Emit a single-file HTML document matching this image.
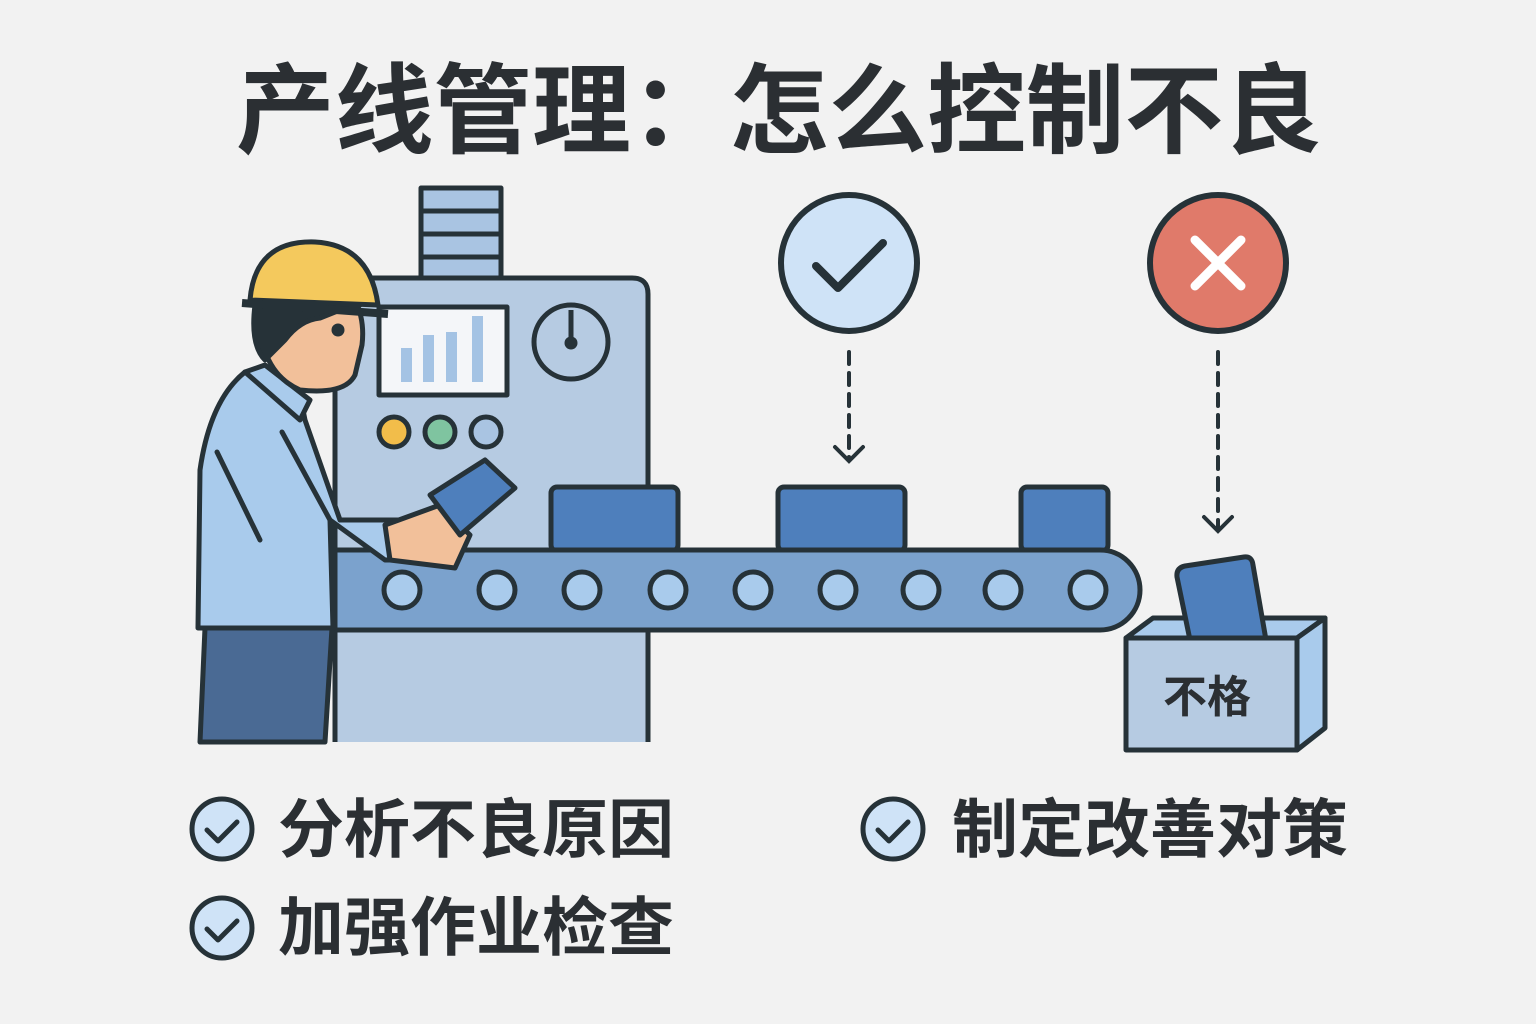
<!DOCTYPE html>
<html><head><meta charset="utf-8"><style>
html,body{margin:0;padding:0;background:#f2f2f2;}
svg{display:block;}
text{font-family:"Liberation Sans","Noto Sans CJK SC",sans-serif;font-weight:bold;fill:#2b2f33;}
</style></head><body>
<svg width="1536" height="1024" viewBox="0 0 1536 1024" xmlns="http://www.w3.org/2000/svg">
<rect width="1536" height="1024" fill="#f2f2f2"/>
<text x="236" y="145" font-size="98" textLength="1086" lengthAdjust="spacingAndGlyphs">产线管理：怎么控制不良</text>

<g stroke="#263238" stroke-width="5" stroke-linejoin="round">
<!-- machine top stack -->
<rect x="421" y="188" width="80" height="90" fill="#a9c4e2"/>
<line x1="421" y1="211" x2="501" y2="211"/><line x1="421" y1="234" x2="501" y2="234"/><line x1="421" y1="257" x2="501" y2="257"/>
<!-- machine body -->
<path d="M335 742 V278 H632 Q648 278 648 294 V742" fill="#b6cbe2"/>
<rect x="379" y="307" width="128" height="88" fill="#f4f6f9"/>
<g stroke="none" fill="#a4c3e4"><rect x="401" y="348" width="11" height="34"/><rect x="423" y="335" width="11" height="47"/><rect x="446" y="332" width="11" height="50"/><rect x="472" y="316" width="11" height="66"/></g>
<circle cx="571" cy="342" r="37" fill="#b6cbe2"/>
<line x1="571" y1="310" x2="571" y2="340"/><circle cx="571" cy="343" r="4" fill="#263238"/>
<circle cx="394" cy="432" r="15" fill="#f2bd4a"/>
<circle cx="440" cy="432" r="15" fill="#7fc4a0"/>
<circle cx="486" cy="432" r="15" fill="#a9c4e2"/>
<!-- boxes -->
<rect x="551" y="487" width="127" height="64" rx="6" fill="#4e7fbc"/>
<rect x="778" y="487" width="127" height="64" rx="6" fill="#4e7fbc"/>
<rect x="1021" y="487" width="87" height="64" rx="6" fill="#4e7fbc"/>
<!-- conveyor -->
<path d="M335 550 H1100 A40 40 0 0 1 1100 630 H335 Z" fill="#7ba2cd"/>
<g fill="#a9cbec"><circle cx="402" cy="590" r="18"/><circle cx="497" cy="590" r="18"/><circle cx="582" cy="590" r="18"/><circle cx="668" cy="590" r="18"/><circle cx="753" cy="590" r="18"/><circle cx="838" cy="590" r="18"/><circle cx="921" cy="590" r="18"/><circle cx="1003" cy="590" r="18"/><circle cx="1088" cy="590" r="18"/></g>

<!-- worker -->
<path d="M205 628 L200 742 H238 L325 742 L332 628 Z" fill="#4a6a94"/>
<path d="M245 372 Q210 400 200 470 L198 628 H333 L330 520 L385 560 H440 L440 520 H340 L305 420 L300 395 Z" fill="#a9cbec"/>
<path d="M245 372 L300 420 L310 400 L265 365 Z" fill="#a9cbec"/>
<path d="M385 525 L440 505 L470 535 L455 568 L390 560 Z" fill="#f2c09a"/>
<path d="M430 495 L485 460 L515 488 L460 535 Z" fill="#4e7fbc"/>
<path d="M260 300 Q255 370 300 390 Q345 395 355 375 L362 345 Q365 320 355 300 Z" fill="#f2c09a"/>
<path d="M255 305 Q250 345 265 360 L285 340 Q300 320 320 318 L340 310 L360 305 Z" fill="#263238"/>
<path d="M250 300 Q255 240 315 242 Q370 245 378 305 Z" fill="#f4c95d"/>
<line x1="242" y1="303" x2="388" y2="314" stroke-width="8"/>
<circle cx="338" cy="330" r="4" fill="#263238"/>
</g>
<path d="M217 452 L260 540 M282 432 L330 520" stroke="#263238" stroke-width="5" fill="none" stroke-linecap="round"/>

<!-- check and X -->
<g stroke="#263238" stroke-width="6">
<circle cx="849" cy="263" r="68" fill="#cfe3f7"/>
<circle cx="1218" cy="263" r="68" fill="#e07a6a"/>
</g>
<path d="M816 266 L838 288 L883 243" stroke="#263238" stroke-width="8" fill="none" stroke-linecap="round" stroke-linejoin="round"/>
<path d="M1195 240 L1241 286 M1241 240 L1195 286" stroke="#fff" stroke-width="9" stroke-linecap="round"/>
<g stroke="#263238" stroke-width="4" fill="none" stroke-linecap="round">
<line x1="849" y1="352" x2="849" y2="460" stroke-dasharray="12 9"/>
<path d="M835 447 L849 461 L863 447"/>
<line x1="1218" y1="352" x2="1218" y2="530" stroke-dasharray="12 9"/>
<path d="M1204 517 L1218 531 L1232 517"/>
</g>

<!-- bin -->
<g stroke="#263238" stroke-width="5" stroke-linejoin="round">
<path d="M1126 638 L1153 618 H1325 L1297 638 Z" fill="#a9cbec"/>
<path d="M1190 640 L1177 577 Q1176 568 1185 566 L1244 557 Q1252 556 1253 565 L1266 640 Z" fill="#4e7fbc"/>
<path d="M1297 638 L1325 618 V728 L1297 750 Z" fill="#a9cbec"/>
<rect x="1126" y="638" width="171" height="112" fill="#b6cbe2"/>
</g>
<text x="1163" y="712" font-size="44">不格</text>

<!-- bullets -->
<g stroke="#263238" stroke-width="5" fill="#cfe3f7"><circle cx="222" cy="829" r="30"/><circle cx="222" cy="928" r="30"/><circle cx="893" cy="829" r="30"/></g>
<g stroke="#263238" stroke-width="5" fill="none" stroke-linecap="round" stroke-linejoin="round">
<path d="M207 830 L218 841 L237 822"/><path d="M207 929 L218 940 L237 921"/><path d="M878 830 L889 841 L908 822"/>
</g>
<text x="278" y="852" font-size="64" textLength="396" lengthAdjust="spacingAndGlyphs">分析不良原因</text>
<text x="278" y="950" font-size="64" textLength="396" lengthAdjust="spacingAndGlyphs">加强作业检查</text>
<text x="952" y="852" font-size="64" textLength="396" lengthAdjust="spacingAndGlyphs">制定改善对策</text>
</svg>
</body></html>
